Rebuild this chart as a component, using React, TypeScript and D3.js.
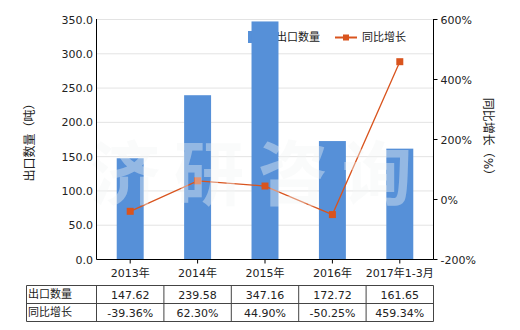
import React from "react";
import * as d3 from "d3";

const categories = ["2013年", "2014年", "2015年", "2016年", "2017年1-3月"];
const exportQty = [147.62, 239.58, 347.16, 172.72, 161.65];
const yoyGrowth = [-39.36, 62.3, 44.9, -50.25, 459.34];
const qtyLabels = ["147.62", "239.58", "347.16", "172.72", "161.65"];
const growthLabels = ["-39.36%", "62.30%", "44.90%", "-50.25%", "459.34%"];
const leftTicks = [0, 50, 100, 150, 200, 250, 300, 350];
const rightTicks = [-200, 0, 200, 400, 600];

const W = 520, H = 330;
const L = 96.5, R = 433.5, T = 19.5, B = 259.5;
const BAR = "#5690D8";
const LINE = "#D9541E";
const FONT = "'DejaVu Sans', 'Noto Sans CJK SC', sans-serif";

export default function App() {
  const x = d3.scaleBand<string>().domain(categories).range([L, R]).padding(0);
  const yL = d3.scaleLinear().domain([0, 350]).range([B, T]);
  const yR = d3.scaleLinear().domain([-200, 600]).range([B, T]);
  const bw = x.bandwidth() * 0.4;
  const cx = (c: string) => (x(c) as number) + x.bandwidth() / 2;
  const line = d3
    .line<number>()
    .x((_, i) => cx(categories[i]))
    .y((d) => yR(d));

  const rowTop = 285.5, rowMid = 303.5, rowBot = 321.5, tableLeft = 26.5;

  return (
    <svg
      width={W}
      height={H}
      style={{ position: "absolute", left: 0, top: 0, fontFamily: FONT }}
    >
      <rect width={W} height={H} fill="#fff" />
      {/* gridlines */}
      {leftTicks.map((t) => (
        <line key={t} x1={L} x2={R} y1={yL(t)} y2={yL(t)} stroke="#e3e3e3" strokeWidth={1} />
      ))}
      {/* legend */}
      <rect x={248} y={31} width={24} height={12} fill={BAR} />
      <text x={276} y={41} fontSize={11} fill="#222">出口数量</text>
      <line x1={335} x2={357} y1={37.5} y2={37.5} stroke={LINE} strokeWidth={2} />
      <rect x={343} y={34.5} width={6} height={6} fill={LINE} />
      <text x={362} y={41} fontSize={11} fill="#222">同比增长</text>
      {/* bars */}
      {categories.map((c, i) => (
        <rect
          key={c}
          x={cx(c) - bw / 2}
          y={yL(exportQty[i])}
          width={bw}
          height={B - yL(exportQty[i])}
          fill={BAR}
        />
      ))}
      {/* line */}
      <path d={line(yoyGrowth) || ""} fill="none" stroke={LINE} strokeWidth={1.3} />
      {yoyGrowth.map((v, i) => (
        <rect key={i} x={cx(categories[i]) - 3.5} y={yR(v) - 3.5} width={7} height={7} fill={LINE} />
      ))}
      {/* watermark */}
      <text
        x={258}
        y={200}
        textAnchor="middle"
        fontSize={70}
        fontWeight="bold"
        fill="#f2f6f4"
        fillOpacity={0.4}
        letterSpacing={14}
        fontFamily="'Noto Sans CJK SC', sans-serif"
      >
        济研咨询
      </text>
      {/* left axis */}
      <line x1={L} x2={L} y1={T - 0.5} y2={B} stroke="#000" />
      {leftTicks.map((t) => (
        <text key={t} x={93} y={yL(t) + 4} textAnchor="end" fontSize={11} fill="#222">
          {t.toFixed(1)}
        </text>
      ))}
      {/* right axis */}
      <line x1={R} x2={R} y1={T - 0.5} y2={B} stroke="#000" />
      {rightTicks.map((t) => (
        <g key={t}>
          <line x1={R} x2={R + 4} y1={yR(t)} y2={yR(t)} stroke="#000" />
          <text x={R + 7} y={yR(t) + 4} fontSize={11} fill="#222">
            {t}%
          </text>
        </g>
      ))}
      {/* bottom axis */}
      <line x1={L} x2={R} y1={B} y2={B} stroke="#000" />
      {categories.map((c) => (
        <g key={c}>
          <line x1={cx(c)} x2={cx(c)} y1={B} y2={B + 4} stroke="#000" />
          <text x={cx(c)} y={277} textAnchor="middle" fontSize={11} fill="#222">
            {c}
          </text>
        </g>
      ))}
      {/* axis titles */}
      <text
        transform={`translate(34,${(T + B) / 2}) rotate(-90)`}
        textAnchor="middle"
        fontSize={12}
        fill="#222"
      >
        出口数量（吨）
      </text>
      <text
        transform={`translate(484,${(T + B) / 2}) rotate(90)`}
        textAnchor="middle"
        fontSize={12}
        fill="#222"
      >
        同比增长（%）
      </text>
      {/* table */}
      <g stroke="#444" strokeWidth={1}>
        <line x1={tableLeft} x2={R} y1={rowTop} y2={rowTop} />
        <line x1={tableLeft} x2={R} y1={rowMid} y2={rowMid} />
        <line x1={tableLeft} x2={R} y1={rowBot} y2={rowBot} />
        <line x1={tableLeft} x2={tableLeft} y1={rowTop} y2={rowBot} />
        {categories.map((c) => (
          <line key={c} x1={x(c)} x2={x(c)} y1={rowTop} y2={rowBot} />
        ))}
        <line x1={R} x2={R} y1={rowTop} y2={rowBot} />
      </g>
      <text x={28} y={298} fontSize={11} fill="#222">出口数量</text>
      <text x={28} y={316} fontSize={11} fill="#222">同比增长</text>
      {categories.map((c, i) => (
        <g key={c}>
          <text x={cx(c)} y={299} textAnchor="middle" fontSize={11} fill="#222">
            {qtyLabels[i]}
          </text>
          <text x={cx(c)} y={317} textAnchor="middle" fontSize={11} fill="#222">
            {growthLabels[i]}
          </text>
        </g>
      ))}
    </svg>
  );
}
